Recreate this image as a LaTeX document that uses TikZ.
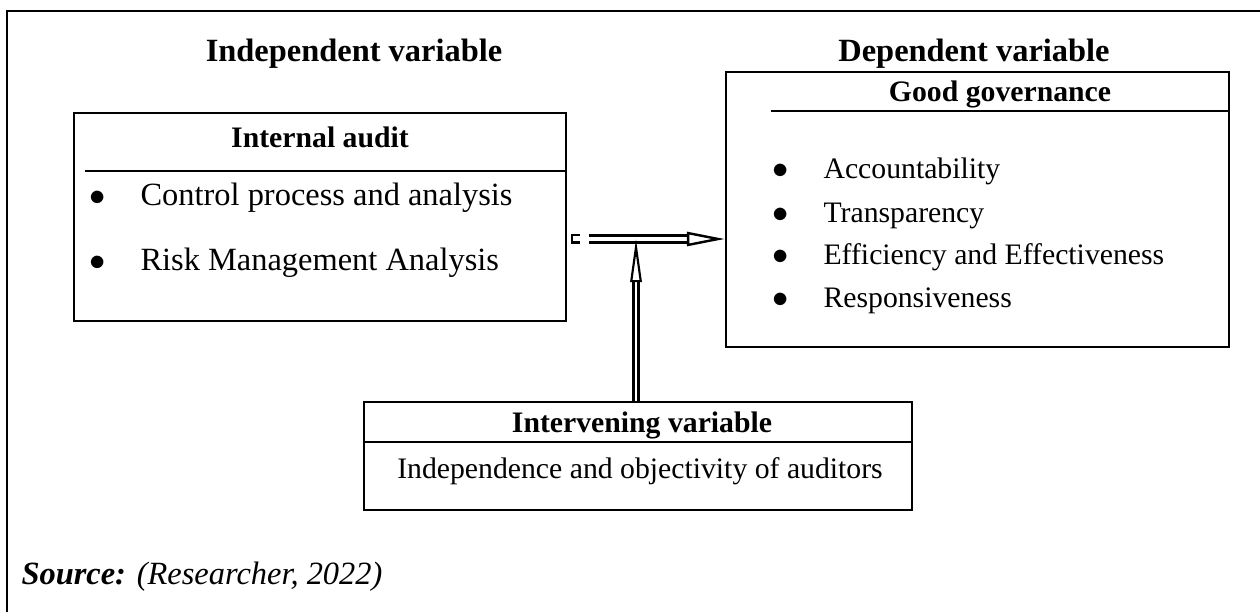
\documentclass[tikz,border=0pt]{standalone}
\usepackage{fontspec}
\setmainfont{Liberation Serif}
\usetikzlibrary{arrows.meta}
\newcommand\pxu{0.37pt}

\begin{document}
\begin{tikzpicture}[
  x=0.37pt, y=-0.37pt,
  font=\fontsize{12}{14}\selectfont,
  outerframe/.style={draw=black, line width=1pt},
  varbox/.style={draw=black, line width=0.9pt, inner sep=0pt},
  seprule/.style={draw=black, line width=0.4pt},
  colhead/.style={anchor=base, inner sep=0pt, font=\fontsize{12}{14}\selectfont\bfseries},
  boxhead/.style={anchor=base, inner sep=0pt, font=\fontsize{11}{13}\selectfont\bfseries},
  bulletmark/.style={anchor=base, inner sep=0pt},
  itemtext/.style={anchor=base west, inner sep=0pt},
  smallitem/.style={anchor=base west, inner sep=0pt, font=\fontsize{11}{13}\selectfont},
  linkarrow/.style={draw=black, line width=1pt, double=white, double distance=1.7pt,
    -{Triangle[open, length=14pt, width=5.2pt, line width=0.9pt]}},
  modarrow/.style={draw=black, line width=0.75pt, double=white, double distance=1.1pt,
    -{Triangle[open, length=16pt, width=4.2pt, line width=0.8pt]}}
]
  \useasboundingbox (0,0) rectangle (1260,612);
  \draw[outerframe] (7,612) |- (1260,11);

  % column titles
  \node[colhead] (indeptitle) at (354,62) {Independent variable};
  \node[colhead] (deptitle) at (974,62) {Dependent variable};

  % internal audit
  \node[varbox, minimum width=492*\pxu, minimum height=208*\pxu] (auditbox) at (320,217) {};
  \node[boxhead] (audithead) at (320,148) {Internal audit};
  \draw[seprule] (85,171) -- (auditbox.east |- 85,171);
  \node[bulletmark] (ab1) at (98,205) {$\bullet$};
  \node[itemtext] (ai1) at (140,205) {Control process and analysis};
  \node[bulletmark] (ab2) at (98,270) {$\bullet$};
  \node[itemtext] (ai2) at (140,270) {Risk Management Analysis};

  % good governance
  \node[varbox, minimum width=503*\pxu, minimum height=275*\pxu] (govbox) at (977.5,209.5) {};
  \node[boxhead] (govhead) at (1000,102) {Good governance};
  \draw[seprule] (771,111) -- (govbox.east |- 771,111);
  \node[bulletmark] (gb1) at (781,178) {$\bullet$};
  \node[smallitem] (gi1) at (823,178) {Accountability};
  \node[bulletmark] (gb2) at (781,222) {$\bullet$};
  \node[smallitem] (gi2) at (823,222) {Transparency};
  \node[bulletmark] (gb3) at (781,264) {$\bullet$};
  \node[smallitem] (gi3) at (823,264) {Efficiency and Effectiveness};
  \node[bulletmark] (gb4) at (781,307) {$\bullet$};
  \node[smallitem] (gi4) at (823,307) {Responsiveness};

  % intervening variable
  \node[varbox, minimum width=548*\pxu, minimum height=108*\pxu] (intbox) at (638,456) {};
  \node[boxhead] (inthead) at (642,432) {Intervening variable};
  \draw[seprule] (intbox.west |- 364,442) -- (intbox.east |- 364,442);
  \node[anchor=base, inner sep=0pt, font=\fontsize{11}{13}\selectfont] (inttext) at (640,478) {Independence and objectivity of auditors};

  % arrows
  \coordinate (hstart) at (589,239);
  \coordinate (vjoin) at (636,239);
  \draw[line width=1pt] (580,235) -| (572,242.5) -- (580,242.5);
  \draw[linkarrow] (hstart) -- (govbox.west |- hstart);
  \draw[modarrow] (intbox.north -| vjoin) -- (vjoin);

  \node[anchor=base west, inner sep=0pt] (source) at (21,584) {\itshape\textbf{Source:} (Researcher, 2022)};
\end{tikzpicture}
\end{document}
